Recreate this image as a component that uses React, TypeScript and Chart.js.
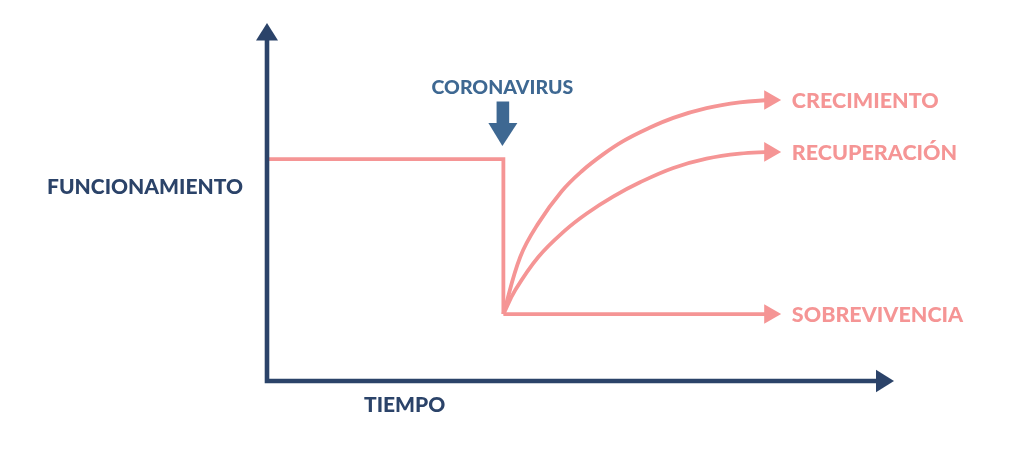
import React, { useEffect, useRef } from 'react';
import { Chart, registerables } from 'chart.js';

Chart.register(...registerables);

// value scale is abstract: time 0..10, functioning 0..10
const seriesNames = ['CRECIMIENTO', 'RECUPERACIÓN', 'SOBREVIVENCIA'];

const beforeX = [0, 3.77, 3.77];
const beforeY = [6.2, 6.2, 1.87];

const crecimientoX = [3.77, 4.04, 4.33, 4.7, 5.02, 5.36, 5.68, 6.06, 6.48, 7.01, 7.54, 8.02];
const crecimientoY = [1.87, 3.47, 4.41, 5.3, 5.86, 6.33, 6.7, 7.04, 7.35, 7.62, 7.78, 7.85];

const recuperacionX = [3.77, 3.96, 4.33, 4.75, 5.1, 5.52, 5.95, 6.48, 7.01, 7.54, 8.02];
const recuperacionY = [1.87, 2.54, 3.47, 4.2, 4.68, 5.15, 5.55, 5.95, 6.21, 6.35, 6.4];

const sobrevivenciaX = [3.77, 8.02];
const sobrevivenciaY = [1.87, 1.87];

const shockX = 3.77;

const PINK = '#f59595';
const NAVY = '#2b4369';
const STEEL = '#3e6892';
const FONT = 'Lato, "Open Sans", sans-serif';

const toPoints = (xs: number[], ys: number[]) => xs.map((x, i) => ({ x, y: ys[i] }));

const arrowLine = (label: string, xs: number[], ys: number[]) => ({
  label,
  data: toPoints(xs, ys),
  showLine: true,
  borderColor: PINK,
  borderWidth: 3.8,
  backgroundColor: PINK,
  tension: 0.4,
  pointStyle: 'triangle' as const,
  rotation: 90,
  pointBorderWidth: 0,
  pointRadius: (ctx: any) => (ctx.dataIndex === xs.length - 1 ? 11.3 : 0),
});

const decorations = {
  id: 'decorations',
  afterDatasetsDraw(chart: any) {
    const { ctx, chartArea } = chart;
    const { left, right, top, bottom } = chartArea;
    const xs = chart.scales.x;
    const ys = chart.scales.y;
    ctx.save();

    // axes with arrow heads
    ctx.strokeStyle = NAVY;
    ctx.fillStyle = NAVY;
    ctx.lineWidth = 4.6;
    ctx.beginPath();
    ctx.moveTo(left, top + 16);
    ctx.lineTo(left, bottom);
    ctx.lineTo(right - 17, bottom);
    ctx.stroke();
    ctx.beginPath();
    ctx.moveTo(left, top);
    ctx.lineTo(left + 11, top + 17.5);
    ctx.lineTo(left - 11, top + 17.5);
    ctx.closePath();
    ctx.fill();
    ctx.beginPath();
    ctx.moveTo(right, bottom);
    ctx.lineTo(right - 18, bottom - 11.3);
    ctx.lineTo(right - 18, bottom + 11.3);
    ctx.closePath();
    ctx.fill();

    // axis titles
    ctx.font = `900 21px ${FONT}`;
    ctx.textBaseline = 'middle';
    ctx.textAlign = 'right';
    ctx.fillText('FUNCIONAMIENTO', left - 24, ys.getPixelForValue(5.42));
    ctx.textAlign = 'left';
    ctx.fillText('TIEMPO', left + 97, bottom + 24);

    // event marker
    const sx = xs.getPixelForValue(shockX);
    ctx.fillStyle = STEEL;
    ctx.font = `900 19.5px ${FONT}`;
    ctx.textAlign = 'center';
    ctx.fillText('CORONAVIRUS', sx - 1, 88);
    ctx.fillRect(sx - 6.8, 101.5, 12.6, 22);
    ctx.beginPath();
    ctx.moveTo(sx - 15, 123);
    ctx.lineTo(sx + 14, 123);
    ctx.lineTo(sx - 1, 146);
    ctx.closePath();
    ctx.fill();

    // series labels at the arrow heads
    ctx.fillStyle = PINK;
    ctx.font = `900 21.5px ${FONT}`;
    ctx.textAlign = 'left';
    const ends = [
      [crecimientoX, crecimientoY],
      [recuperacionX, recuperacionY],
      [sobrevivenciaX, sobrevivenciaY],
    ];
    ends.forEach(([ex, ey], i) => {
      const n = ex.length - 1;
      ctx.fillText(seriesNames[i], xs.getPixelForValue(ex[n]) + 22, ys.getPixelForValue(ey[n]) + 1);
    });
    ctx.restore();
  },
};

const App: React.FC = () => {
  const chartRef = useRef<HTMLCanvasElement>(null);

  useEffect(() => {
    document.body.style.margin = '0';
    if (!chartRef.current) return;
    const ctx = chartRef.current.getContext('2d');
    if (!ctx) return;

    const myChart = new Chart(ctx, {
      type: 'scatter',
      data: {
        datasets: [
          {
            label: 'antes',
            data: toPoints(beforeX, beforeY),
            showLine: true,
            borderColor: PINK,
            borderWidth: 3.8,
            pointRadius: 0,
            borderJoinStyle: 'miter',
          },
          arrowLine(seriesNames[0], crecimientoX, crecimientoY),
          arrowLine(seriesNames[1], recuperacionX, recuperacionY),
          arrowLine(seriesNames[2], sobrevivenciaX, sobrevivenciaY),
        ] as any,
      },
      options: {
        animation: false,
        responsive: false,
        events: [],
        layout: { padding: { left: 267, right: 130, top: 23, bottom: 77 } },
        plugins: { legend: { display: false }, tooltip: { enabled: false } },
        scales: {
          x: { type: 'linear', min: 0, max: 10, display: false },
          y: { type: 'linear', min: 0, max: 10, display: false },
        },
      },
      plugins: [decorations],
    });

    return () => {
      myChart.destroy();
    };
  }, []);

  return (
    <div style={{ width: 1024, height: 458, background: '#fff' }}>
      <canvas ref={chartRef} width={1024} height={458} />
    </div>
  );
};

export default App;
